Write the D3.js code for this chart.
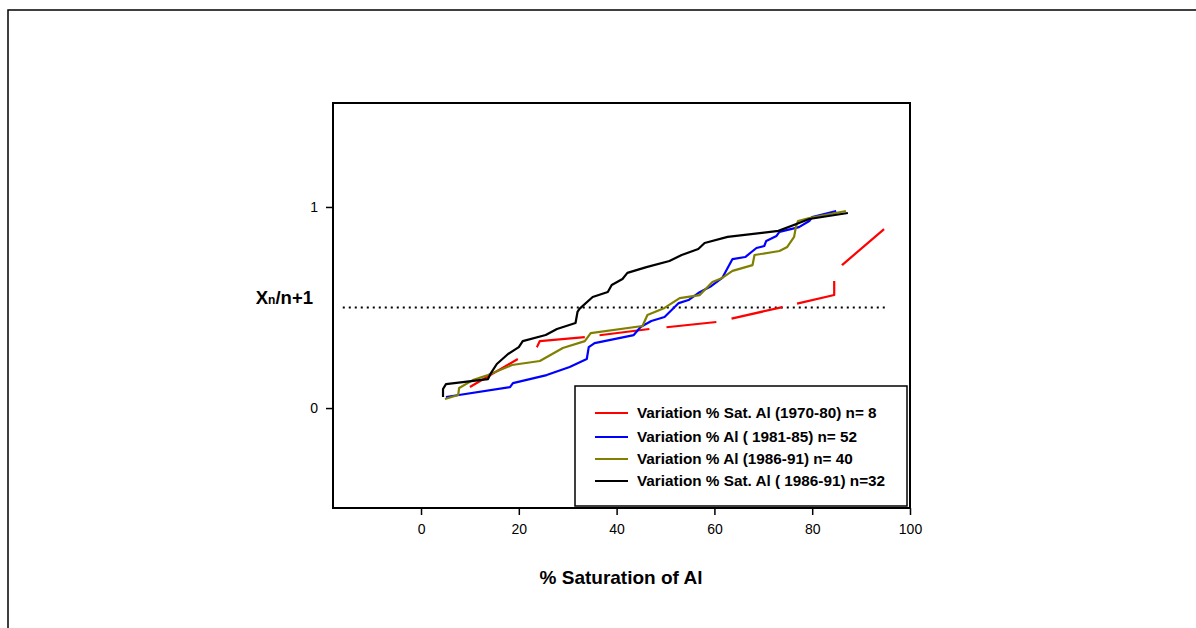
<!DOCTYPE html>
<html><head><meta charset="utf-8">
<script src="https://cdn.jsdelivr.net/npm/d3@7"></script>
<style>body{margin:0;background:#fff}svg{display:block}text{font-family:"Liberation Sans",Arial,sans-serif}</style>
</head><body><svg id="c" width="1196" height="628"></svg>
<script>
const xTicks = [0, 20, 40, 60, 80, 100];
const yTicks = [0, 1];
const refLevel = [-16, 95];
const refValue = 0.5;
const seriesNames = [
  "Variation % Sat. Al (1970-80) n= 8",
  "Variation % Al ( 1981-85) n= 52",
  "Variation % Al (1986-91) n= 40",
  "Variation % Sat. Al ( 1986-91) n=32"
];
const redX = [10, 19.8, 23.7, 24.3, 33.5, 46.7, 60.4, 73.9, 84.5, 84.5, 86.1, 94.7];
const redY = [0.105, 0.244, 0.303, 0.333, 0.353, 0.393, 0.428, 0.502, 0.562, 0.632, 0.711, 0.89];
// visible dash pieces of the red series (start/end points along the curve)
const redDashStartX = [10, 23.7, 36.5, 50.2, 63.5, 76.9, 86.1];
const redDashStartY = [0.105, 0.303, 0.363, 0.402, 0.445, 0.519, 0.711];
const redDashEndX = [19.8, 33.5, 46.7, 60.4, 73.9, 84.5, 94.7];
const redDashEndY = [0.244, 0.353, 0.393, 0.428, 0.502, 0.632, 0.89];
const blueX = [5.1, 18.2, 18.8, 25.7, 30.4, 33.9, 34.3, 35.5, 43.5, 44.9, 47.1, 49.8, 52.7, 54.7, 56.7, 59.4, 61.6, 63.7, 66.3, 68.6, 70.2, 70.6, 72.7, 73.3, 77.3, 79.4, 80.0, 84.9];
const blueY = [0.055, 0.104, 0.124, 0.164, 0.204, 0.244, 0.303, 0.323, 0.363, 0.403, 0.433, 0.453, 0.522, 0.537, 0.572, 0.607, 0.647, 0.741, 0.751, 0.796, 0.806, 0.831, 0.856, 0.876, 0.900, 0.930, 0.950, 0.980];
const oliveX = [4.9, 7.6, 7.8, 10.6, 13.7, 18.6, 24.3, 29.0, 33.5, 34.7, 45.3, 46.3, 49.8, 52.9, 57.0, 59.6, 61.6, 63.7, 67.8, 68.2, 73.3, 74.9, 76.3, 76.7, 77.1, 79.4, 86.9];
const oliveY = [0.045, 0.065, 0.100, 0.139, 0.164, 0.214, 0.234, 0.299, 0.333, 0.373, 0.408, 0.463, 0.498, 0.547, 0.562, 0.627, 0.647, 0.682, 0.711, 0.761, 0.781, 0.801, 0.851, 0.905, 0.930, 0.945, 0.980];
const blackX = [4.5, 4.5, 5.1, 13.7, 14.3, 15.5, 17.8, 20.0, 20.8, 25.5, 27.8, 31.6, 32.0, 32.4, 35.1, 38.2, 39.0, 41.2, 42.2, 46.1, 50.8, 53.3, 56.7, 58.0, 62.7, 73.1, 77.3, 79.4, 87.3];
const blackY = [0.055, 0.095, 0.119, 0.144, 0.174, 0.219, 0.269, 0.303, 0.333, 0.363, 0.393, 0.423, 0.478, 0.493, 0.552, 0.577, 0.612, 0.642, 0.672, 0.701, 0.731, 0.761, 0.791, 0.821, 0.851, 0.881, 0.920, 0.940, 0.970];

const colors = ["#ff0000", "#0000ff", "#808000", "#000000"];
const FONT = '"Liberation Sans",Arial,sans-serif';
const svg = d3.select("#c");
const L = 333, R = 910, T = 103, B = 508;
const x = d3.scaleLinear().domain([-18, 100]).range([L, R]);
const y = d3.scaleLinear().domain([-0.497, 1.517]).range([B, T]);

// outer frame
svg.append("rect").attr("x", 8).attr("y", 10).attr("width", 1200).attr("height", 640)
  .attr("fill", "none").attr("stroke", "#000").attr("stroke-width", 1.5);

// plot frame
svg.append("rect").attr("x", L).attr("y", T).attr("width", R - L).attr("height", B - T)
  .attr("fill", "none").attr("stroke", "#000").attr("stroke-width", 2);

const xa = svg.append("g").attr("transform", `translate(0,${B})`)
  .call(d3.axisBottom(x).tickValues(xTicks).tickSize(7).tickPadding(9).tickFormat(d3.format("d")));
xa.select(".domain").remove();
xa.selectAll("line").attr("stroke-width", 1.5);
xa.selectAll("text").attr("font-size", 14).attr("fill", "#000").style("font-family", FONT);

const ya = svg.append("g").attr("transform", `translate(${L},0)`)
  .call(d3.axisLeft(y).tickValues(yTicks).tickSize(7).tickPadding(8).tickFormat(d3.format("d")));
ya.select(".domain").remove();
ya.selectAll("line").attr("stroke-width", 1.5);
ya.selectAll("text").attr("font-size", 14).attr("fill", "#000").style("font-family", FONT);

// dotted reference line
svg.append("line").attr("x1", x(refLevel[0])).attr("x2", x(refLevel[1]))
  .attr("y1", y(refValue)).attr("y2", y(refValue))
  .attr("stroke", "#000").attr("stroke-width", 2).attr("stroke-dasharray", "2,4");

const line = d3.line().x(d => x(d[0])).y(d => y(d[1]));
const data = [
  d3.zip(redX, redY), d3.zip(blueX, blueY), d3.zip(oliveX, oliveY), d3.zip(blackX, blackY)
];

// arc length along a polyline (pixel space) at the projection of point p
function arcLengthAt(pts, p) {
  let best = Infinity, bestLen = 0, acc = 0;
  for (let i = 0; i < pts.length - 1; i++) {
    const a = pts[i], b = pts[i + 1];
    const dx = b[0] - a[0], dy = b[1] - a[1];
    const len = Math.hypot(dx, dy);
    let t = len > 0 ? ((p[0] - a[0]) * dx + (p[1] - a[1]) * dy) / (len * len) : 0;
    t = Math.max(0, Math.min(1, t));
    const qx = a[0] + t * dx, qy = a[1] + t * dy;
    const dist = Math.hypot(p[0] - qx, p[1] - qy);
    if (dist < best - 1e-9) { best = dist; bestLen = acc + t * len; }
    acc += len;
  }
  return bestLen;
}
const redPx = data[0].map(d => [x(d[0]), y(d[1])]);
const dashArr = [];
let prevEnd = 0;
redDashStartX.forEach((sx, i) => {
  const s = arcLengthAt(redPx, [x(sx), y(redDashStartY[i])]);
  const e = arcLengthAt(redPx, [x(redDashEndX[i]), y(redDashEndY[i])]);
  if (i > 0) dashArr.push(Math.max(0.1, s - prevEnd));
  dashArr.push(Math.max(0.1, e - s));
  prevEnd = e;
});
dashArr.push(1000);

data.forEach((d, i) => {
  svg.append("path").attr("d", line(d)).attr("fill", "none")
    .attr("stroke", colors[i]).attr("stroke-width", 2.2)
    .attr("stroke-linejoin", "round")
    .attr("stroke-dasharray", i === 0 ? dashArr.join(",") : null);
});

// legend
const lg = svg.append("g");
lg.append("rect").attr("x", 575).attr("y", 386).attr("width", 332).attr("height", 120)
  .attr("fill", "#fff").attr("stroke", "#000").attr("stroke-width", 1.5);
const ly = [413, 437, 459, 481];
seriesNames.forEach((n, i) => {
  lg.append("line").attr("x1", 595).attr("x2", 628).attr("y1", ly[i]).attr("y2", ly[i])
    .attr("stroke", colors[i]).attr("stroke-width", 2);
  lg.append("text").attr("x", 637).attr("y", ly[i] + 5).attr("font-size", 15.3).attr("font-weight", "bold").text(n);
});

// axis titles
svg.append("text").attr("x", 621).attr("y", 584).attr("text-anchor", "middle")
  .attr("font-size", 19).attr("font-weight", "bold").text("% Saturation of Al");
const yt = svg.append("text").attr("x", 313).attr("y", 304).attr("text-anchor", "end")
  .attr("font-size", 18.5).attr("font-weight", "bold");
yt.append("tspan").text("X");
yt.append("tspan").attr("font-size", 12).text("n");
yt.append("tspan").text("/n+1");
</script></body></html>
